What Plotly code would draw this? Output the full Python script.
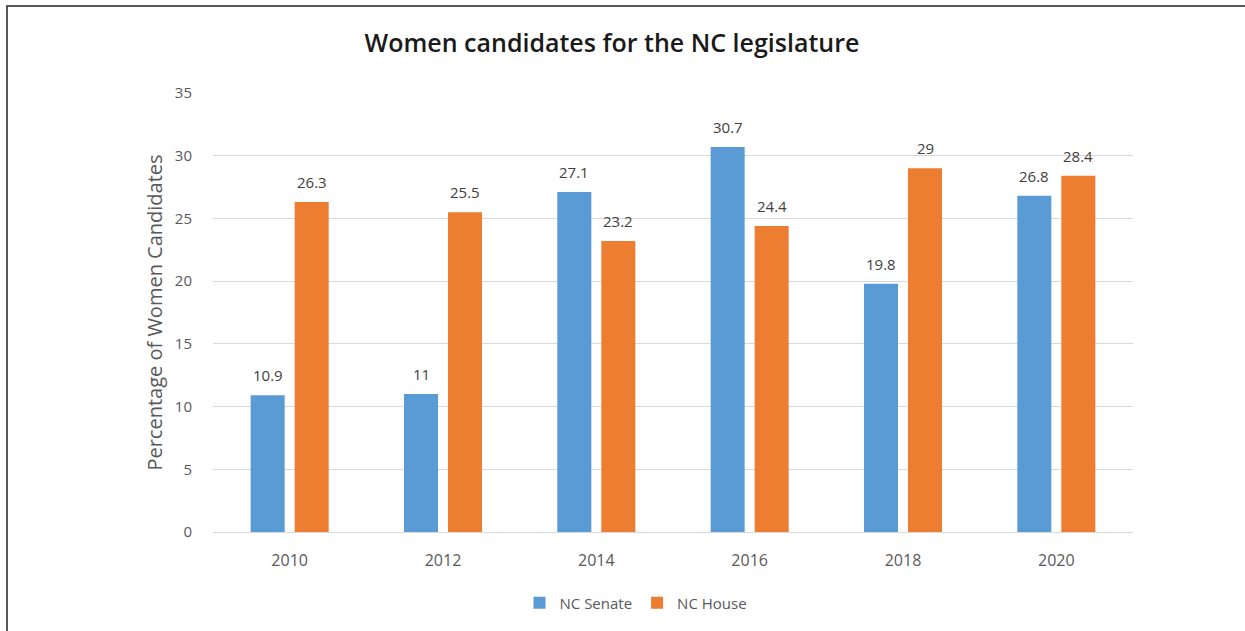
import plotly.graph_objects as go

years = ["2010", "2012", "2014", "2016", "2018", "2020"]
senate = [10.9, 11, 27.1, 30.7, 19.8, 26.8]
house = [26.3, 25.5, 23.2, 24.4, 29, 28.4]
y_ticks = [0, 5, 10, 15, 20, 25, 30, 35]

FONT = "Open Sans"
W, H = 1245, 631
ml, mr, mt, mb = 213, 112, 93, 99
pw, ph = W - ml - mr, H - mt - mb

def px_x(p):
    return (p - ml) / pw

def px_y(p):
    return (H - mb - p) / ph

fig = go.Figure()
fig.add_trace(go.Bar(name="NC Senate", x=years, y=senate, marker_color="#5B9BD5",
                     marker_line_width=0))
fig.add_trace(go.Bar(name="NC House", x=years, y=house, marker_color="#ED7D31",
                     marker_line_width=0))

# value labels above the bars (category index = position of the year in the list)
annotations = []
for series, shift in ((senate, -22), (house, 22)):
    for idx, v in enumerate(series):
        annotations.append(dict(
            x=idx, y=v, xref="x", yref="y", text=f"{v:g}", showarrow=False,
            xshift=shift, yshift=20, yanchor="middle", xanchor="center",
            font=dict(size=15, color="#404040", family=FONT)))

fig.update_layout(
    width=W, height=H,
    margin=dict(l=ml, r=mr, t=mt, b=mb, pad=0),
    paper_bgcolor="white", plot_bgcolor="white",
    barmode="group", bargap=0.426, bargroupgap=0.227,
    font=dict(family=FONT, color="#595959"),
    title=dict(text="Women candidates for the NC legislature",
               x=612 / W, xanchor="center",
               y=1 - 43 / H, yanchor="middle",
               font=dict(size=25, color="#1a1a1a", family=FONT, weight=600)),
    showlegend=True,
    legend=dict(orientation="h", x=px_x(636), xanchor="center",
                y=px_y(603), yanchor="middle",
                font=dict(size=15, color="#595959", family=FONT),
                itemwidth=30, traceorder="normal"),
    xaxis=dict(type="category", range=[-0.5, len(years) - 0.5],
               showgrid=False, showline=True, linecolor="#D9D9D9",
               tickfont=dict(size=16, color="#595959"), ticks="",
               ticklabelstandoff=14),
    yaxis=dict(range=[0, 35], tickvals=y_ticks, showgrid=True,
               gridcolor="#D9D9D9", zeroline=False, showline=False,
               tickfont=dict(size=15, color="#595959"), ticks="",
               ticklabelstandoff=20,
               title=dict(text="Percentage of Women Candidates",
                          font=dict(size=20, color="#595959"), standoff=6)),
    annotations=annotations,
    shapes=[dict(type="rect", xref="paper", yref="paper",
                 x0=px_x(7), x1=px_x(1260), y0=px_y(660), y1=px_y(6),
                 line=dict(color="#222222", width=1.5), layer="below")],
)

fig.write_html("out.html")
